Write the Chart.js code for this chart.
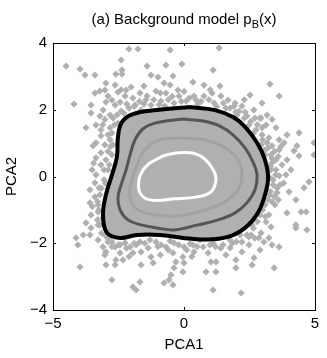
<!DOCTYPE html>
<html>
<head>
<meta charset="utf-8">
<script src="https://cdn.jsdelivr.net/npm/chart.js@4/dist/chart.umd.min.js"></script>
<style>
  body { margin: 0; background: #fff; }
  canvas { display: block; }
</style>
</head>
<body>
<canvas id="bgChart" width="327" height="358"></canvas>
<script>
const xTicks = [-5, 0, 5];
const yTicks = [-4, -2, 0, 2, 4];

// scattered samples [PCA1, PCA2]
const ptsUpperLeft = [
    [-4.50, 3.31], [-3.97, 3.22], [-3.78, 3.04], [-3.40, 3.04], [-2.60, 3.07], [-2.37, 3.19],
    [-2.37, 3.07], [-2.40, 3.49], [-2.10, 3.82], [-1.76, 3.82], [-2.98, 2.80], [-3.02, 2.59],
    [-3.40, 2.50], [-3.21, 2.56], [-2.90, 2.41], [-2.02, 2.68], [-2.25, 2.41], [-1.95, 2.35],
    [-1.68, 2.50], [-4.20, 2.17], [-3.55, 2.14], [-3.55, 1.90], [-2.98, 2.23], [-3.09, 1.99],
    [-2.63, 2.14], [-2.40, 1.96], [-3.21, 1.81], [-3.02, 1.71], [-3.74, 1.46], [-3.36, 1.54],
    [-3.17, 1.40], [-2.82, 1.46], [-3.17, 1.22], [-3.36, 1.01], [-3.47, 0.92], [-3.02, 0.95],
    [-2.82, 1.10], [-3.17, 0.71], [-3.36, 0.56], [-2.98, 0.50], [-2.90, 0.20], [-3.36, 0.05],
    [-3.51, 0.20], [-2.63, 2.74], [-2.52, 2.53], [-2.75, 2.29], [-2.44, 2.23], [-2.18, 2.17],
    [-2.71, 1.75], [-2.52, 1.60], [-2.90, 1.25], [-2.71, 0.95], [-2.75, 0.65], [-3.17, 0.35],
    [-3.05, -0.10], [-3.24, -0.34], [-1.87, 2.14], [-2.21, 2.59], [-2.82, 1.84]
];
const ptsTop = [
    [-0.53, 3.79], [1.34, 3.85], [-1.41, 3.31], [-0.69, 3.34], [-0.08, 3.37], [1.11, 3.19],
    [-1.26, 3.04], [-0.99, 2.98], [-0.42, 3.01], [0.34, 2.83], [0.76, 2.74], [1.37, 2.71],
    [-1.53, 2.71], [-0.76, 2.80], [-0.53, 2.74], [-0.23, 2.59], [-1.07, 2.56], [-0.69, 2.50],
    [-1.41, 2.41], [-0.19, 2.41], [0.38, 2.41], [0.76, 2.41], [1.07, 2.50], [1.41, 2.41],
    [1.68, 2.29], [0.08, 2.26], [-0.38, 2.20], [-0.88, 2.26], [-1.26, 2.14], [1.15, 2.20],
    [-1.53, 2.17], [-0.73, 2.11], [0.53, 2.17], [1.76, 2.05], [1.98, 1.93], [-1.64, 1.99]
];
const ptsRight = [
    [3.28, 2.77], [3.63, 2.41], [2.52, 2.44], [2.98, 2.20], [1.91, 2.11], [2.21, 2.11],
    [2.67, 1.99], [3.17, 1.84], [2.94, 1.75], [3.36, 1.71], [2.40, 1.81], [2.02, 1.84],
    [2.48, 1.54], [3.13, 1.54], [2.75, 1.40], [3.51, 1.46], [4.39, 1.31], [3.93, 1.25],
    [3.63, 1.10], [3.24, 1.16], [4.96, 1.01], [4.31, 0.92], [3.82, 1.01], [3.36, 0.92],
    [3.63, 0.80], [4.20, 0.77], [4.96, 0.65], [4.39, 0.62], [3.93, 0.50], [3.51, 0.50],
    [3.32, 0.65], [3.74, 0.35], [4.08, 0.20], [3.51, 0.20], [3.89, 0.05], [3.63, 0.02],
    [3.32, 0.20], [3.36, 0.41], [3.17, 1.01], [2.98, 1.25], [3.09, 0.80], [3.28, -0.04],
    [3.40, -0.25], [2.98, 1.46], [2.71, 1.75], [2.33, 1.93]
];
const ptsLowerRight = [
    [4.77, -0.16], [4.58, -0.34], [4.01, -0.46], [4.27, -0.70], [3.55, -0.49], [3.36, -0.76],
    [3.93, -1.09], [4.47, -1.06], [4.66, -1.06], [4.27, -1.45], [4.27, -1.54], [4.69, -1.60],
    [3.24, -1.15], [3.13, -1.36], [3.32, -1.51], [2.94, -1.69], [3.24, -1.84], [3.05, -1.96],
    [3.36, -2.05], [3.63, -2.11], [2.56, -1.75], [2.21, -1.96], [2.48, -2.05], [2.21, -2.26],
    [1.98, -2.50], [2.67, -2.44], [2.60, -2.65], [1.98, -2.74], [3.44, -2.74], [2.18, -3.49],
    [2.48, -1.81], [2.86, -1.84], [3.28, -0.55], [3.09, -0.85], [2.90, -1.15], [2.60, -1.45],
    [2.14, -1.75], [1.76, -1.90], [3.47, -0.85], [3.66, -0.25]
];
const ptsBottom = [
    [-1.37, -2.14], [-1.07, -1.96], [-0.88, -2.05], [-0.69, -2.11], [-0.38, -1.99], [0.00, -2.11],
    [0.34, -2.05], [0.73, -2.11], [1.11, -1.99], [1.49, -2.05], [-1.26, -2.41], [-0.42, -2.29],
    [-0.04, -2.41], [0.38, -2.26], [0.92, -2.29], [-1.18, -2.59], [-0.31, -2.56], [0.00, -2.59],
    [-0.38, -2.74], [-0.04, -2.86], [1.03, -2.56], [1.22, -2.56], [0.84, -2.86], [1.22, -2.86],
    [-0.50, -2.95], [-0.76, -3.19], [-0.57, -3.10], [-0.42, -3.25], [1.11, -3.40], [-1.64, -2.65],
    [-1.30, -1.90], [-0.53, -1.93], [0.23, -2.02], [0.99, -2.05], [-1.68, -1.96], [1.76, -2.14],
    [0.61, -1.90]
];
const ptsLowerLeft = [
    [-3.40, -0.19], [-3.59, -0.40], [-3.40, -0.61], [-3.59, -0.79], [-3.28, -1.06], [-3.55, -1.15],
    [-3.74, -1.39], [-3.55, -1.54], [-3.28, -1.45], [-3.09, -1.24], [-4.12, -1.84], [-3.85, -1.75],
    [-3.59, -1.75], [-4.05, -2.05], [-3.28, -1.90], [-3.09, -2.11], [-2.98, -2.26], [-2.90, -1.96],
    [-2.63, -2.11], [-2.44, -2.29], [-2.60, -2.50], [-3.02, -2.35], [-2.25, -1.99], [-2.06, -2.11],
    [-1.83, -2.05], [-1.64, -2.26], [-1.95, -2.29], [-2.98, -2.65], [-2.63, -2.65], [-2.33, -2.50],
    [-3.97, -2.71], [-2.75, -3.10], [-1.95, -3.31], [-1.83, -3.40], [-1.68, -3.16], [-3.21, -1.45],
    [-3.02, -1.75], [-2.75, -1.96], [-2.44, -2.05], [-3.28, -0.85], [-3.21, -0.55]
];
// crowded band just outside the outer contour
const ptsHalo = [
    [-1.90, 2.10], [-1.70, 2.25], [-1.45, 2.30], [-1.15, 2.30], [-0.95, 2.15], [-0.60, 2.30],
    [-0.45, 2.40], [-0.10, 2.25], [0.20, 2.35], [0.45, 2.30], [0.65, 2.25], [0.95, 2.30],
    [1.25, 2.10], [1.50, 2.20], [1.60, 2.05], [1.95, 2.20], [2.10, 1.95], [2.30, 1.75],
    [2.55, 1.65], [2.80, 1.55], [2.65, 1.30], [3.00, 1.10], [2.95, 0.95], [3.20, 0.85],
    [3.10, 0.65], [3.35, 0.55], [3.45, 0.75], [3.30, 0.30], [3.50, 0.05], [3.40, -0.10],
    [3.55, -0.35], [3.30, -0.45], [3.20, -0.70], [3.45, -0.60], [3.00, -1.00], [3.10, -1.20],
    [2.80, -1.35], [2.65, -1.55], [2.40, -1.75], [2.70, -1.85], [2.00, -1.95], [1.85, -2.00],
    [1.40, -2.15], [1.20, -2.10], [0.50, -2.10], [0.10, -2.20], [-0.20, -2.05], [-0.60, -2.20],
    [-1.00, -2.10], [-1.50, -2.00], [-1.90, -2.00], [-2.20, -2.15], [-2.50, -2.05], [-2.75, -2.10],
    [-2.90, -1.85], [-3.15, -1.70], [-3.30, -1.30], [-3.25, -1.00], [-3.30, -0.75], [-3.15, -0.35],
    [-3.00, -0.20], [-3.05, 0.20], [-2.85, 0.35], [-2.90, 0.75], [-2.80, 0.90], [-2.75, 1.30],
    [-2.65, 1.55], [-2.55, 1.85], [-2.30, 1.90], [-2.10, 2.05], [3.60, 0.60], [3.70, 0.90],
    [3.60, -0.70], [3.80, -0.20], [2.90, 1.75], [2.30, 2.30], [-3.45, 0.40], [-3.50, -0.90],
    [-3.10, 1.55], [-2.40, 2.60], [-0.90, 2.50], [0.00, 2.55], [1.00, 2.60], [0.30, -2.40],
    [-0.90, -2.35], [1.60, -2.35], [-2.10, -2.40], [2.90, -2.20]
];

// density contours, outer to inner
const contourOuter = [
    [0.23, 2.08], [1.18, 1.99], [1.87, 1.78], [2.33, 1.49], [2.79, 1.01], [3.09, 0.50],
    [3.21, -0.04], [3.09, -0.55], [2.82, -1.09], [2.33, -1.54], [1.68, -1.81], [0.80, -1.89],
    [-0.04, -1.84], [-0.92, -1.75], [-1.79, -1.75], [-2.44, -1.84], [-2.94, -1.69], [-3.09, -1.15],
    [-2.98, -0.55], [-2.75, 0.05], [-2.56, 0.59], [-2.52, 1.19], [-2.37, 1.63], [-1.95, 1.87],
    [-1.03, 1.99], [0.23, 2.08]
];
const contourMid = [
    [-0.04, 1.72], [0.73, 1.66], [1.37, 1.51], [1.87, 1.25], [2.33, 0.86], [2.63, 0.44],
    [2.79, 0.05], [2.71, -0.40], [2.40, -0.79], [1.95, -1.09], [1.30, -1.30], [0.53, -1.45],
    [-0.38, -1.60], [-1.03, -1.54], [-1.64, -1.45], [-2.14, -1.30], [-2.44, -1.00], [-2.52, -0.64],
    [-2.40, -0.25], [-2.21, 0.20], [-2.06, 0.65], [-1.87, 1.10], [-1.56, 1.43], [-1.11, 1.60],
    [-0.04, 1.72]
];
const contourLight = [
    [-0.04, 1.15], [0.80, 1.10], [1.56, 0.86], [2.06, 0.50], [2.21, 0.05], [2.06, -0.40],
    [1.56, -0.76], [0.80, -1.00], [-0.15, -1.18], [-1.11, -1.15], [-1.76, -1.00], [-2.06, -0.64],
    [-2.02, -0.19], [-1.79, 0.35], [-1.49, 0.80], [-0.92, 1.10], [-0.04, 1.15]
];
const contourInner = [
    [-1.30, 0.41], [-0.65, 0.65], [0.23, 0.71], [0.73, 0.56], [1.11, 0.20], [1.22, -0.10],
    [1.03, -0.46], [0.50, -0.61], [-0.34, -0.67], [-1.30, -0.70], [-1.68, -0.49], [-1.72, -0.10],
    [-1.56, 0.20], [-1.30, 0.41]
];

const FONT = "'Liberation Sans', Arial, Helvetica, sans-serif";
const GREY = '#b0b0b0';

function toXY(list) {
    return list.map(p => ({ x: p[0], y: p[1] }));
}

function fmt(v) {
    return v < 0 ? '\u2212' + Math.abs(v) : String(v);
}

function contour(list, color, width, order) {
    return {
        data: toXY(list),
        showLine: true,
        borderColor: color,
        borderWidth: width,
        pointRadius: 0,
        tension: 0.4,
        fill: false,
        order: order
    };
}

const samples = [].concat(ptsUpperLeft, ptsTop, ptsRight, ptsLowerRight, ptsBottom, ptsLowerLeft, ptsHalo);

// title with subscript + inward tick marks
const decorations = {
    id: 'decorations',
    afterDraw(chart) {
        const ctx = chart.ctx;
        const area = chart.chartArea;
        const xs = chart.scales.x;
        const ys = chart.scales.y;
        ctx.save();
        ctx.strokeStyle = '#000';
        ctx.lineWidth = 1;
        ctx.beginPath();
        xTicks.forEach(v => {
            const px = Math.round(xs.getPixelForValue(v)) + 0.5;
            ctx.moveTo(px, area.bottom); ctx.lineTo(px, area.bottom - 3);
            ctx.moveTo(px, area.top); ctx.lineTo(px, area.top + 3);
        });
        yTicks.forEach(v => {
            const py = Math.round(ys.getPixelForValue(v)) + 0.5;
            ctx.moveTo(area.left, py); ctx.lineTo(area.left + 3, py);
            ctx.moveTo(area.right, py); ctx.lineTo(area.right - 3, py);
        });
        ctx.stroke();

        const big = '15px ' + FONT;
        const small = '11px ' + FONT;
        const part1 = '(a) Background model p';
        const sub = 'B';
        const part2 = '(x)';
        ctx.font = big;
        const w1 = ctx.measureText(part1).width;
        const w3 = ctx.measureText(part2).width;
        ctx.font = small;
        const w2 = ctx.measureText(sub).width;
        let x = (area.left + area.right) / 2 - (w1 + w2 + w3) / 2;
        ctx.fillStyle = '#000';
        ctx.textBaseline = 'alphabetic';
        ctx.textAlign = 'left';
        ctx.font = big;
        ctx.fillText(part1, x, 24);
        x += w1;
        ctx.font = small;
        ctx.fillText(sub, x, 28);
        x += w2;
        ctx.font = big;
        ctx.fillText(part2, x, 24);
        ctx.restore();
    }
};

const ctx = document.getElementById('bgChart').getContext('2d');

new Chart(ctx, {
    type: 'scatter',
    data: {
        datasets: [
            contour(contourOuter, '#000000', 4, 0),
            contour(contourMid, '#555555', 3, 1),
            contour(contourLight, '#a2a2a2', 3, 2),
            contour(contourInner, '#ffffff', 3, 3),
            {
                data: toXY(samples),
                pointStyle: 'rectRot',
                pointRadius: 3.6,
                backgroundColor: GREY,
                borderWidth: 0,
                order: 10
            },
            {
                data: toXY(contourOuter),
                showLine: true,
                borderWidth: 0,
                pointRadius: 0,
                tension: 0.4,
                backgroundColor: GREY,
                fill: 'shape',
                order: 20
            }
        ]
    },
    options: {
        responsive: false,
        animation: false,
        events: [],
        layout: { padding: 0 },
        plugins: {
            legend: { display: false },
            tooltip: { enabled: false },
            title: { display: false }
        },
        scales: {
            x: {
                type: 'linear',
                position: 'bottom',
                min: -5,
                max: 5,
                afterBuildTicks: s => { s.ticks = xTicks.map(v => ({ value: v })); },
                afterFit: s => { s.height = 48; },
                grid: { display: false, drawTicks: false },
                border: { display: true, color: '#000', width: 1 },
                ticks: {
                    padding: 5,
                    maxRotation: 0,
                    color: '#000',
                    font: { family: FONT, size: 15 },
                    callback: fmt
                },
                title: {
                    display: true,
                    text: 'PCA1',
                    color: '#000',
                    font: { family: FONT, size: 15 },
                    padding: { top: 0, bottom: 4 }
                }
            },
            y: {
                type: 'linear',
                position: 'left',
                min: -4,
                max: 4,
                afterBuildTicks: s => { s.ticks = yTicks.map(v => ({ value: v })); },
                afterFit: s => { s.width = 53; },
                grid: { display: false, drawTicks: false },
                border: { display: true, color: '#000', width: 1 },
                ticks: {
                    padding: 6,
                    color: '#000',
                    font: { family: FONT, size: 15 },
                    callback: fmt
                },
                title: {
                    display: true,
                    text: 'PCA2',
                    color: '#000',
                    font: { family: FONT, size: 15 },
                    padding: { top: 3, bottom: 0 }
                }
            },
            x2: {
                type: 'linear',
                position: 'top',
                min: -5,
                max: 5,
                afterFit: s => { s.height = 43; },
                grid: { display: false, drawTicks: false },
                border: { display: true, color: '#000', width: 1 },
                ticks: { display: false }
            },
            y2: {
                type: 'linear',
                position: 'right',
                min: -4,
                max: 4,
                afterFit: s => { s.width = 12; },
                grid: { display: false, drawTicks: false },
                border: { display: true, color: '#000', width: 1 },
                ticks: { display: false }
            }
        }
    },
    plugins: [decorations]
});
</script>
</body>
</html>
